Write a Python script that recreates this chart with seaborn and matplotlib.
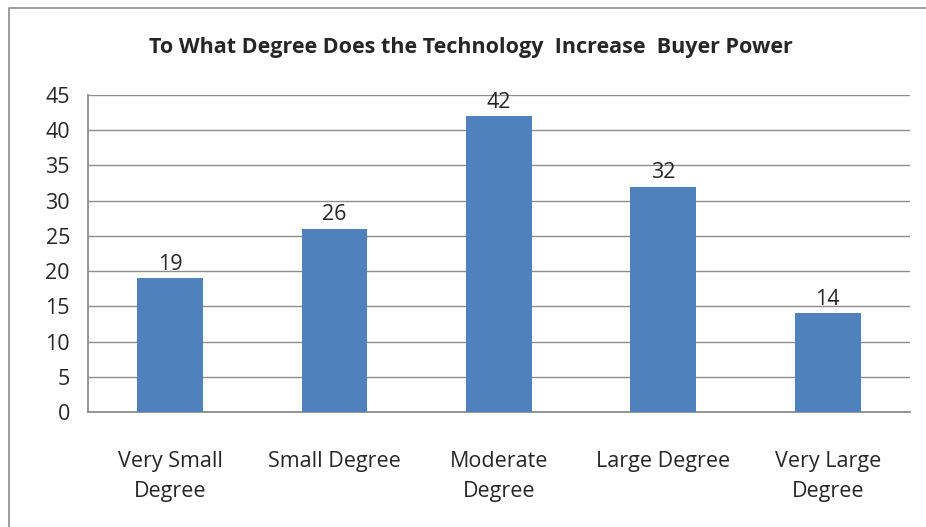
#bar chart: degree to which technology increases buyer power
import pandas as pd
import numpy as np
import matplotlib
matplotlib.use('Agg')
import matplotlib.pyplot as plt
import seaborn as sns
from matplotlib.lines import Line2D

#data
categories=['Very Small\nDegree','Small Degree','Moderate\nDegree','Large Degree','Very Large\nDegree']
counts=[19,26,42,32,14]
yticks=[0,5,10,15,20,25,30,35,40,45]

df=pd.DataFrame({'category':categories,'count':counts})

sns.set_style('white')
plt.rcParams['font.family']=['Open Sans','DejaVu Sans']

fig=plt.figure(figsize=(9.26,5.27),dpi=100)
fig.patch.set_linewidth(0)
ax=fig.add_axes([0.095,0.2182,0.8877,0.6015])

sns.barplot(x='category',y='count',data=df,color='#4F81BD',width=0.4,saturation=1,linewidth=0,ax=ax,zorder=3)

ax.set_ylim(0,45)
ax.set_xlim(-0.5,len(categories)-0.5)
ax.set_yticks(yticks)
ax.set_yticklabels([str(v) for v in yticks],fontsize=15.5)
ax.grid(axis='y',color='#8c8c8c',linewidth=1,zorder=0)
ax.set_xlabel('')
ax.set_ylabel('')

#tick marks at category boundaries, labels at centers
ax.set_xticks(np.arange(len(categories)))
ax.set_xticklabels(categories,fontsize=15.5,linespacing=1.6)
ax.set_xticks(np.arange(len(categories)+1)-0.5,minor=True)
ax.tick_params(axis='x',which='major',length=0,pad=28)
ax.tick_params(axis='x',which='minor',length=7,width=1,color='#8c8c8c',direction='out')
ax.tick_params(axis='y',length=8,width=1,color='#8c8c8c',direction='out',pad=5)

for s in ['top','right']:
    ax.spines[s].set_visible(False)
for s in ['left','bottom']:
    ax.spines[s].set_color('#8c8c8c')
    ax.spines[s].set_linewidth(1.3)

#value labels above the bars
for i,v in enumerate(counts):
    ax.text(i,v+0.5,str(v),ha='center',va='bottom',fontsize=15.5)

fig.text(0.508,0.91,'To What Degree Does the Technology  Increase  Buyer Power',ha='center',va='center',fontsize=15.5,fontweight='bold')

#outer chart frame (only left and top edges fall inside the picture)
x0=9/926
y0=1-8/527
fig.lines.append(Line2D([x0,x0,1.05],[-0.05,y0,y0],transform=fig.transFigure,color='#8c8c8c',linewidth=1.2))

plt.savefig('out.png',dpi=100)
